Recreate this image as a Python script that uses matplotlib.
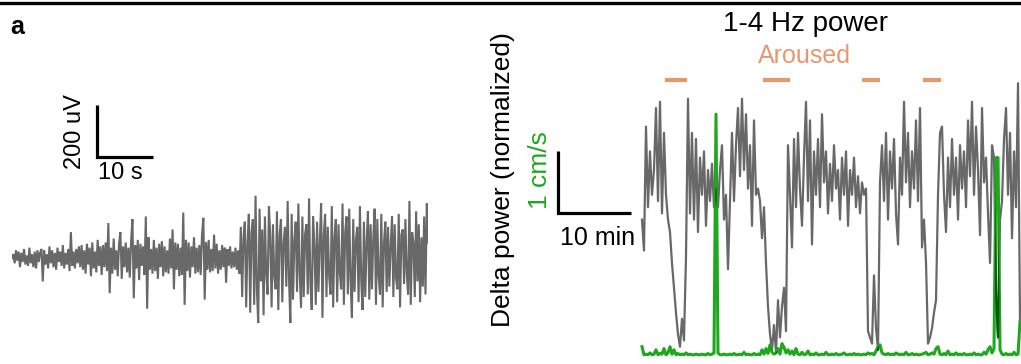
import numpy as np
import matplotlib
matplotlib.use("Agg")
import matplotlib.pyplot as plt
from matplotlib.lines import Line2D

plt.rcParams['font.family'] = ['Liberation Sans', 'DejaVu Sans']

# ---------------- data ----------------
# LFP trace (uV), sampled every ~0.239 s over ~74 s
lfp_uv = [
    # quiet part
    0, 15, -20, 30, -10, 25, -35, 20, -15, 35, -25, 10,
    -30, 40, -20, 15, -35, 25, -40, 30, -15, 20, 35, -90,
    30, -25, 15, -40, 45, -20, 30, -35, 20, -45, 40, -15,
    25, -30, 50, -40, 20, -25, 35, -50, 100, -30,
    25, -40, 35, -20, 45,
    # medium part
    -35, 50, -45, 30, -60, 55, -25, 40, -70, 60,
    -40, 25, -55, 70, -30, 45, -65, 50, -35, 60,
    -50, 135, -135, 40, -60, 75, -45, 30, -70, 55,
    100, -80, 45, -35, 60, -55, 40, -75, 65, 150,
    -155, 50, -40, 70, -85, 55, -30, 45, -65, 160,
    -195, 80, -45, 35, -60, 70, -50, 40, -80, 55,
    -35, 65, -70, 45, -55, 30, -60, 75, -40, 110,
    -120, 60, -45, 55, -70, 40, -65, 175, -180, 70,
    -50, 60, -75, 45, -35, 80, -60, 40, -55, 50,
    -65, 90, 155, -160, 60, -45, 70, -55, 35, -50,
    90, -40, 55, -60, 30, -45, 50, -35, 40, -95,
    35, -30, 45, -40, 25, -35, 40, -45, 30,
    # large part
    -60, 120, -150, 80, 140, -190, 60, 170, -210, 100,
    150, -180, 240, -120, -250, 190, -90, 110, -220, 160,
    -60, -140, 200, 80, -190, 130, -70, -120, 180, -200,
    90, 150, -170, 60, 120, -110, 220, -80, -250, 170,
    -160, 70, 140, -130, 210, -60, -190, 160, -150, 90,
    130, -140, 230, -100, -200, 160, 50, -180, 140, -130,
    60, 210, -230, 90, 170, -150, 120, -70, -140, 200,
    -190, 80, 150, -170, 130, -60, -120, 210, -180, 100,
    160, -140, 190, -80, -230, 150, -130, 70, 120, -170,
    200, -90, -200, 140, -150, 60, 180, -160, 130, -120,
    80, 190, -180, 150, -70, -140, 170, -190, 60, 140,
    -130, 120, -110, 50, 160, -150, 130, -80, -120, 170,
    -190, 90, 110, -100, 150, -60, -140, 220, -180, 100,
    60, -150, 180, -90, 130, -170, 80, -110, 160, -140,
    210, 60,
]
lfp_dt_s = 0.239

# Delta (1-4 Hz) power, normalized, sampled every ~0.274 min
delta_power = [
    2.2, 1.7, 3.7, 2.4, 3.3, 2.6, 3.0, 4.0, 2.5, 4.1,
    2.3, 3.6, 2.6, 2.2, 2.0, 1.5, 1.1, 0.7, 0.35, 0.15,
    0.6, 0.25, 1.6, 4.15, 2.3, 3.6, 2.2, 3.5, 2.0, 3.2,
    2.6, 3.3, 2.1, 3.0, 2.5, 3.1, 2.4, 2.7, 2.4, 3.0,
    3.4, 2.2, 2.6, 1.4, 2.5, 3.6, 2.5, 3.4, 4.0, 2.9,
    4.15, 3.0, 3.9, 2.7, 3.4, 2.1, 3.8, 2.6, 2.7, 2.5,
    1.9, 2.4, 1.5, 0.8, 0.35, 0.1, 0.5, 0.05, 0.9, 0.3,
    0.8, 1.1, 0.4, 3.4, 2.6, 1.75, 3.5, 2.4, 3.6, 2.7,
    2.1, 3.2, 4.1, 2.5, 3.8, 1.8, 3.3, 2.6, 3.5, 2.4,
    3.9, 2.8, 3.3, 2.3, 3.1, 2.5, 3.4, 2.7, 3.0, 2.2,
    3.2, 2.6, 3.3, 2.1, 3.0, 2.6, 3.2, 2.4, 2.9, 2.3,
    2.8, 2.6, 2.7, 0.4, 0.3, 0.2, 1.3, 0.45, 0.1, 2.8,
    3.4, 2.5, 3.6, 2.2, 3.3, 2.7, 3.5, 2.3, 1.8, 3.2,
    2.6, 4.1, 2.8, 3.6, 2.4, 3.3, 2.7, 3.8, 2.5, 4.0,
    1.75, 2.2, 1.5, 0.2, 0.3, 0.45, 0.7, 0.9, 2.6, 3.6,
    3.7, 2.6, 2.0, 3.2, 2.4, 3.5, 2.6, 3.2, 2.2, 3.4,
    2.7, 3.3, 2.4, 3.8, 2.9, 4.1, 2.6, 3.7, 3.0, 1.95,
    4.0, 2.8, 3.2, 2.3, 1.5, 3.4, 3.2, 1.0, 0.3, 2.2,
    2.5, 3.5, 4.0, 2.6, 3.6, 1.9, 3.3, 2.4, 4.4, 0.5,
]
# Locomotion speed (cm/s), same sampling
speed_cms = [
    0.15, 0.02, 0.03, 0.02, 0.05, 0.02, 0.03, 0.10, 0.02, 0.04,
    0.03, 0.12, 0.02, 0.05, 0.15, 0.03, 0.10, 0.02, 0.04, 0.02,
    0.03, 0.02, 0.05, 0.02, 0.03, 0.02, 0.02, 0.03, 0.02, 0.02,
    0.03, 0.02, 0.02, 0.04, 0.02, 0.03, 0.05, 3.9, 0.05, 0.02,
    0.02, 0.03, 0.02, 0.02, 0.03, 0.02, 0.04, 0.02, 0.02, 0.03,
    0.02, 0.06, 0.02, 0.03, 0.02, 0.02, 0.04, 0.02, 0.03, 0.02,
    0.10, 0.03, 0.12, 0.04, 0.18, 0.06, 0.03, 0.05, 0.12, 0.03,
    0.20, 0.14, 0.05, 0.10, 0.03, 0.08, 0.02, 0.12, 0.03, 0.02,
    0.06, 0.02, 0.03, 0.08, 0.02, 0.03, 0.02, 0.05, 0.02, 0.02,
    0.03, 0.02, 0.06, 0.02, 0.02, 0.03, 0.02, 0.04, 0.02, 0.02,
    0.03, 0.05, 0.02, 0.02, 0.03, 0.02, 0.04, 0.02, 0.03, 0.02,
    0.02, 0.03, 0.02, 0.05, 0.03, 0.04, 0.02, 0.08, 0.15, 0.18,
    0.05, 0.03, 0.02, 0.04, 0.02, 0.03, 0.02, 0.05, 0.03, 0.02,
    0.03, 0.02, 0.06, 0.02, 0.02, 0.04, 0.02, 0.03, 0.02, 0.02,
    0.03, 0.04, 0.06, 0.02, 0.03, 0.05, 0.03, 0.12, 0.15, 0.03,
    0.02, 0.04, 0.02, 0.08, 0.02, 0.03, 0.02, 0.05, 0.02, 0.03,
    0.02, 0.04, 0.02, 0.02, 0.03, 0.02, 0.05, 0.02, 0.03, 0.02,
    0.02, 0.06, 0.03, 0.10, 0.15, 0.05, 0.12, 3.2, 3.2, 0.10,
    0.03, 0.02, 0.04, 0.02, 0.03, 0.02, 0.06, 0.02, 0.03, 0.55,
]
power_t0_min = 0.27
power_dt_min = 0.274

# Aroused epochs (min)
aroused_start = [3.4, 16.9, 30.4, 38.8]
aroused_end = [6.4, 20.5, 32.9, 41.2]

# ---------------- styles ----------------
GREY = '#686868'
GREEN = '#1ea81e'
DARKGREEN = '#0d560d'
SALMON = '#e8976e'
W, H = 1021, 364

fig = plt.figure(figsize=(W / 100, H / 100), dpi=100)

def frac(x0, y0, x1, y1):
    # pixel box (top-left origin) -> figure fraction rect
    return [x0 / W, 1 - y1 / H, (x1 - x0) / W, (y1 - y0) / H]

# ---------------- left: LFP ----------------
ax1 = fig.add_axes(frac(12, 97, 428, 336))
ax1.set_xlim(0, 74.3)
ax1.set_ylim(-300, 620)
ax1.axis('off')
t_lfp = np.arange(len(lfp_uv)) * lfp_dt_s
ax1.plot(t_lfp, lfp_uv, color=GREY, lw=1.5, solid_joinstyle='miter')
# scale bar 10 s / 200 uV
sb_x, sb_y = 15.2, 388
ax1.plot([sb_x, sb_x, sb_x + 10], [sb_y + 200, sb_y, sb_y], color='black',
         lw=2.3, solid_capstyle='butt', solid_joinstyle='miter', clip_on=False)
ax1.text(sb_x - 4.0, sb_y + 100, '200 uV', rotation=90, ha='center', va='center',
         fontsize=17)
ax1.text(sb_x + 4.2, sb_y - 20, '10 s', ha='center', va='top', fontsize=17)

# ---------------- right: delta power + speed ----------------
ax2 = fig.add_axes(frac(480, 70, 1021, 364))
ax2.set_xlim(-21.92, 52.19)
ax2.set_ylim(-0.129, 4.613)
ax2.axis('off')
t_pow = power_t0_min + np.arange(len(delta_power)) * power_dt_min
ax2.plot(t_pow, delta_power, color=GREY, lw=1.6)
ax2.plot(t_pow, speed_cms, color=GREEN, lw=2.2)
# darker where the power trace crosses the speed trace
speed_area = ax2.fill_between(t_pow, 0, speed_cms, color='none', lw=0)
overlap, = ax2.plot(t_pow, delta_power, color=DARKGREEN, lw=1.6)
overlap.set_clip_path(speed_area.get_paths()[0], ax2.transData)
for s, e in zip(aroused_start, aroused_end):
    ax2.plot([s, e], [4.45, 4.45], color=SALMON, lw=3, solid_capstyle='butt',
             clip_on=False)
# scale bar 10 min / 1 cm/s
sx, sy = -11.23, 2.31
ax2.plot([sx, sx, sx + 10], [sy + 1, sy, sy], color='black', lw=2.3,
         solid_capstyle='butt', solid_joinstyle='miter')
ax2.text(sx - 2.5, 3.0, '1 cm/s', rotation=90, ha='center', va='center',
         fontsize=19, color=GREEN)
ax2.text(sx + 5.4, sy - 0.22, '10 min', ha='center', va='top', fontsize=18)
ax2.text(-18.8, 2.85, 'Delta power (normalized)', rotation=90, ha='center',
         va='center', fontsize=19)

# titles
fig.text(805 / W, 1 - 24 / H, '1-4 Hz power', ha='center', va='center', fontsize=20)
fig.text(804 / W, 1 - 56 / H, 'Aroused', ha='center', va='center', fontsize=18,
         color=SALMON)
fig.text(10 / W, 1 - 27 / H, 'a', ha='left', va='center', fontsize=18,
         fontweight='bold')

# top rule
fig.add_artist(Line2D([0, 1], [1 - 3 / H, 1 - 3 / H], color='black', lw=2.4,
                      transform=fig.transFigure))

fig.savefig('out.png', dpi=100)
